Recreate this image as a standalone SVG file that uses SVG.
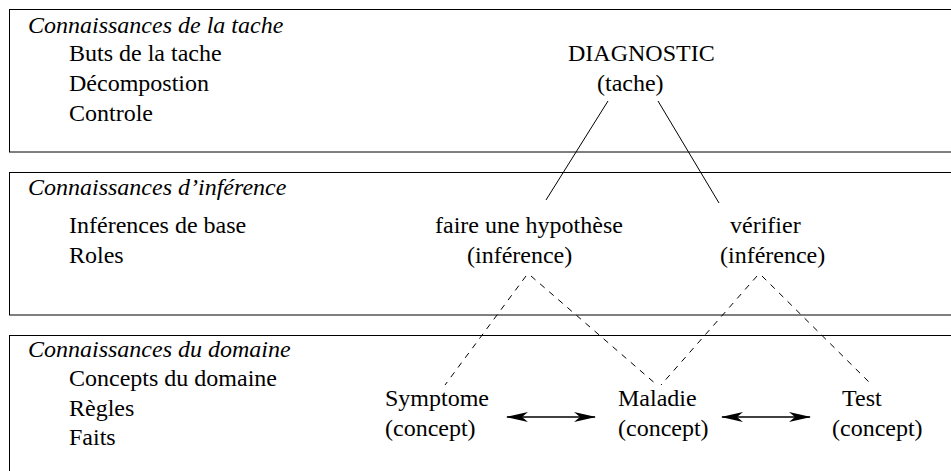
<svg xmlns="http://www.w3.org/2000/svg" width="951" height="471" viewBox="0 0 951 471">
  <style>
    text { font-family: "Liberation Serif", "Times New Roman", serif; font-size: 24px; fill: #000; }
    .title { font-style: italic; }
    .panel { fill: none; stroke: #000; stroke-width: 1; }
    .solid { fill: none; stroke: #000; stroke-width: 1; }
    .dashed { fill: none; stroke: #000; stroke-width: 1; stroke-dasharray: 6 6; }
    .arrow { fill: none; stroke: #000; stroke-width: 1.3; marker-start: url(#head); marker-end: url(#head); }
  </style>
  <defs>
    <marker id="head" viewBox="0 0 22 10" refX="21" refY="5" markerWidth="22" markerHeight="10" markerUnits="userSpaceOnUse" orient="auto-start-reverse">
      <path d="M0,0 L22,5 L0,10 L6,5 Z" fill="#000"/>
    </marker>
  </defs>

  <g id="panel-tache">
    <rect class="panel" x="9.5" y="9.5" width="960" height="142.5"/>
    <text class="title" x="28" y="33">Connaissances de la tache</text>
    <text x="69" y="61">Buts de la tache</text>
    <text x="69" y="91">Décompostion</text>
    <text x="69" y="121">Controle</text>
  </g>

  <g id="panel-inference">
    <rect class="panel" x="9.5" y="172.5" width="960" height="142.5"/>
    <text class="title" x="28" y="195">Connaissances d’inférence</text>
    <text x="69" y="233">Inférences de base</text>
    <text x="69" y="263">Roles</text>
  </g>

  <g id="panel-domaine">
    <rect class="panel" x="9.5" y="335.5" width="960" height="160"/>
    <text class="title" x="28" y="357">Connaissances du domaine</text>
    <text x="69" y="386">Concepts du domaine</text>
    <text x="69" y="416">Règles</text>
    <text x="69" y="445">Faits</text>
  </g>

  <g id="node-diagnostic">
    <text x="568" y="61">DIAGNOSTIC</text>
    <text x="597" y="91">(tache)</text>
  </g>

  <g id="node-hypothese">
    <text x="435" y="233">faire une hypothèse</text>
    <text x="467" y="263">(inférence)</text>
  </g>

  <g id="node-verifier">
    <text x="730" y="233">vérifier</text>
    <text x="720" y="263">(inférence)</text>
  </g>

  <g id="node-symptome">
    <text x="385" y="406">Symptome</text>
    <text x="385" y="436">(concept)</text>
  </g>

  <g id="node-maladie">
    <text x="618" y="406">Maladie</text>
    <text x="618" y="436">(concept)</text>
  </g>

  <g id="node-test">
    <text x="842" y="406">Test</text>
    <text x="832" y="436">(concept)</text>
  </g>

  <g id="connectors">
    <line class="solid" x1="608" y1="101" x2="546" y2="200"/>
    <line class="solid" x1="658" y1="101" x2="719" y2="203"/>
    <line class="dashed" x1="526" y1="276" x2="445" y2="385"/>
    <line class="dashed" x1="531" y1="276" x2="657" y2="385"/>
    <line class="dashed" x1="757" y1="276" x2="661" y2="385"/>
    <line class="dashed" x1="762" y1="276" x2="872" y2="385"/>
    <line class="arrow" x1="507" y1="417" x2="595" y2="417"/>
    <line class="arrow" x1="722" y1="417" x2="810" y2="417"/>
  </g>
</svg>
